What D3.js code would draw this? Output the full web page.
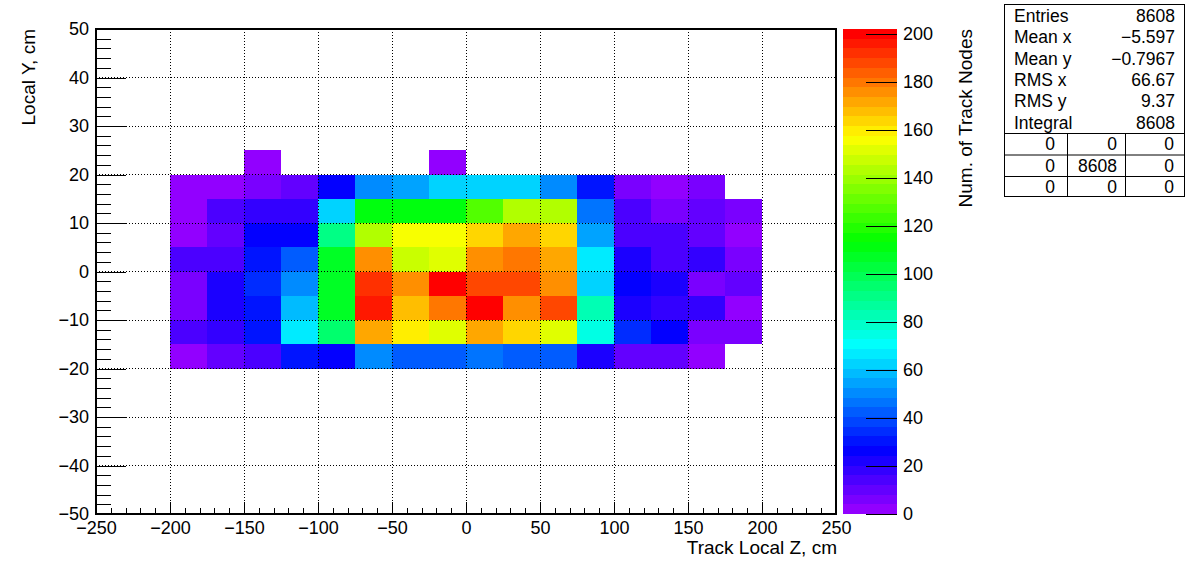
<!DOCTYPE html>
<html>
<head>
<meta charset="utf-8">
<script src="https://cdnjs.cloudflare.com/ajax/libs/d3/7.8.5/d3.min.js"></script>
<style>
body{margin:0;background:#fff}
text{font-family:"Liberation Sans",Arial,Helvetica,sans-serif;fill:#000}
</style>
</head>
<body>
<svg id="chart" width="1196" height="572"></svg>
<script>
// bin low edges (25 cm in Z, 5 cm in Y)
var zLow = [-200,-175,-150,-125,-100,-75,-50,-25,0,25,50,75,100,125,150,175];
var yLow = [20,15,10,5,0,-5,-10,-15,-20];
// counts per Y row (top row first), one value per Z bin
var counts = [
  [  0,  0,  2,  0,  0,  0,  0,  2,  0,  0,  0,  0,  0,  0,  0,  0],
  [  2,  2,  6, 10, 26, 50, 55, 63, 63, 63, 50, 30,  6,  2,  6,  0],
  [  2, 14, 18, 18, 63,113,111,113,127,143,143, 46, 14,  6, 10,  6],
  [  2, 10, 26, 26, 91,143,155,155,164,172,164, 55, 14, 14, 10,  2],
  [ 14, 14, 30, 42,107,176,147,151,176,180,172, 67, 22, 14, 18,  6],
  [  6, 22, 34, 50,107,192,176,200,188,188,176, 63, 26, 22,  6, 10],
  [  6, 22, 30, 59,107,196,168,180,200,176,188, 83, 22, 18, 18,  2],
  [ 14, 18, 30, 67, 95,172,160,151,172,164,151, 75, 34, 26,  6,  6],
  [  2, 10, 14, 30, 26, 50, 42, 42, 46, 42, 42, 22, 10, 10,  2,  0]
];
var zMax = 202;
var nColors = 50;
var xTicks = [-250,-200,-150,-100,-50,0,50,100,150,200,250];
var yTicks = [-50,-40,-30,-20,-10,0,10,20,30,40,50];
var cTicks = [0,20,40,60,80,100,120,140,160,180,200];
var statNames = ["Entries","Mean x","Mean y","RMS x","RMS y","Integral"];
var statValues = ["8608","\u22125.597","\u22120.7967","66.67","9.37","8608"];
var overflow = [["0","0","0"],["0","8608","0"],["0","0","0"]];

var svg = d3.select("#chart");
svg.append("rect").attr("width",1196).attr("height",572).attr("fill","#fff");

var L = 96, R = 836, T = 29, B = 514;
var x = d3.scaleLinear().domain([-250,250]).range([L,R]);
var y = d3.scaleLinear().domain([-50,50]).range([B,T]);
var zc = d3.scaleLinear().domain([0,zMax]).range([B,T]);

function palette(i){ return d3.hsl(280-(i+1)*(280/nColors),1,0.5).toString(); }
function colorOf(v){ return palette(Math.min(nColors-1,Math.floor(v/zMax*nColors))); }
function fmt(d){ return d<0 ? "\u2212"+Math.abs(d) : ""+d; }

// cells
var cells = [];
counts.forEach(function(row,ri){
  row.forEach(function(v,ci){ if(v>0) cells.push({z:zLow[ci],y:yLow[ri],v:v}); });
});
svg.append("g").selectAll("rect").data(cells).enter().append("rect")
  .attr("x",function(d){return x(d.z);})
  .attr("y",function(d){return y(d.y+5);})
  .attr("width",function(d){return x(d.z+25)-x(d.z);})
  .attr("height",function(d){return y(d.y)-y(d.y+5);})
  .attr("fill",function(d){return colorOf(d.v);})
  .attr("shape-rendering","crispEdges");

// grid
var grid = svg.append("g").attr("stroke","#000").attr("stroke-width",1).attr("stroke-dasharray","1,2").attr("shape-rendering","crispEdges");
xTicks.slice(1,-1).forEach(function(t){
  grid.append("line").attr("x1",x(t)).attr("x2",x(t)).attr("y1",T).attr("y2",B);
});
yTicks.slice(1,-1).forEach(function(t){
  grid.append("line").attr("x1",L).attr("x2",R).attr("y1",y(t)).attr("y2",y(t));
});

// axes
var xMinor = d3.range(-250,251,10);
var yMinor = d3.range(-50,51,2);
svg.append("g").attr("transform","translate(0,"+B+")")
  .call(d3.axisBottom(x).tickValues(xMinor).tickSizeInner(-6).tickSizeOuter(0).tickFormat(""));
svg.append("g").attr("transform","translate(0,"+B+")")
  .call(d3.axisBottom(x).tickValues(xTicks).tickSizeInner(-12).tickSizeOuter(0).tickPadding(7).tickFormat(fmt));
svg.append("g").attr("transform","translate("+L+",0)")
  .call(d3.axisLeft(y).tickValues(yMinor).tickSizeInner(-15).tickSizeOuter(0).tickFormat(""));
svg.append("g").attr("transform","translate("+L+",0)")
  .call(d3.axisLeft(y).tickValues(yTicks).tickSizeInner(-30).tickSizeOuter(0).tickPadding(7).tickFormat(fmt));
svg.selectAll(".domain").remove();
svg.selectAll(".tick line").attr("stroke","#000").attr("shape-rendering","crispEdges");
svg.selectAll(".tick text").attr("font-size",18).attr("font-family",null);

// frame
svg.append("rect").attr("x",L).attr("y",T).attr("width",R-L).attr("height",B-T)
  .attr("fill","none").attr("stroke","#000").attr("stroke-width",2);

// palette
var pL = 843, pR = 897;
svg.append("g").selectAll("rect").data(d3.range(nColors)).enter().append("rect")
  .attr("x",pL).attr("width",pR-pL)
  .attr("y",function(i){return zc((i+1)*zMax/nColors);})
  .attr("height",function(i){return zc(i*zMax/nColors)-zc((i+1)*zMax/nColors);})
  .attr("fill",palette).attr("shape-rendering","crispEdges");
var cax = svg.append("g").attr("transform","translate("+pR+",0)")
  .call(d3.axisRight(zc).tickValues(cTicks).tickSizeInner(-31).tickSizeOuter(0).tickPadding(6).tickFormat(fmt));
cax.select(".domain").remove();
cax.selectAll(".tick line").attr("stroke","#000").attr("shape-rendering","crispEdges");
cax.selectAll(".tick text").attr("font-size",18).attr("font-family",null);

// titles
svg.append("text").attr("x",837).attr("y",554).attr("text-anchor","end").attr("font-size",19).text("Track Local Z, cm");
svg.append("text").attr("transform","translate(28,29) rotate(-90)").attr("text-anchor","end")
  .attr("dy","0.35em").attr("font-size",19).text("Local Y, cm");
svg.append("text").attr("transform","translate(965,29) rotate(-90)").attr("text-anchor","end")
  .attr("dy","0.35em").attr("font-size",19).text("Num. of Track Nodes");

// stats box
var sb = svg.append("g");
sb.append("rect").attr("x",1004.5).attr("y",4.5).attr("width",180).attr("height",192)
  .attr("fill","#fff").attr("stroke","#000");
statNames.forEach(function(n,i){
  var cy = 16 + i*21.3;
  sb.append("text").attr("x",1014).attr("y",cy).attr("dy","0.35em").attr("font-size",17.5).text(n);
  sb.append("text").attr("x",1175).attr("y",cy).attr("dy","0.35em").attr("text-anchor","end").attr("font-size",17.5).text(statValues[i]);
});
var rowLines = [133,154.5,176];
rowLines.forEach(function(ly){
  sb.append("line").attr("x1",1004).attr("x2",1185).attr("y1",ly+0.5).attr("y2",ly+0.5).attr("stroke","#000");
});
[1067,1125].forEach(function(lx){
  sb.append("line").attr("x1",lx+0.5).attr("x2",lx+0.5).attr("y1",133).attr("y2",197).attr("stroke","#000");
});
var colRight = [1055,1117,1174];
overflow.forEach(function(row,ri){
  row.forEach(function(v,ci){
    sb.append("text").attr("x",colRight[ci]).attr("y",144+ri*21.5).attr("dy","0.35em")
      .attr("text-anchor","end").attr("font-size",17.5).text(v);
  });
});
</script>
</body>
</html>
